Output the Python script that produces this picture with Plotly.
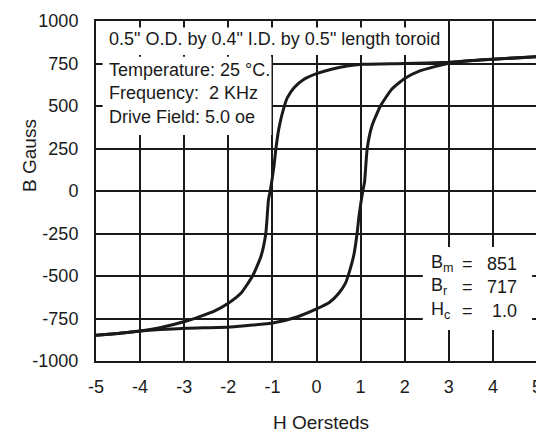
import plotly.graph_objects as go

# Descending branch (from +H to -H)
desc_h = [5.0, 4.0, 3.0, 2.0, 1.05, 0.69, 0.32, 0.0, -0.29, -0.51, -0.66, -0.74, -0.85, -0.92, -0.96, -1.0, -1.05, -1.09, -1.15, -1.26, -1.45, -1.71, -2.0, -2.33, -2.95, -3.55, -4.0, -4.5, -5.0]
desc_b = [790, 775, 758, 750, 745, 735, 715, 690, 656, 608, 549, 490, 372, 250, 156, 80, 0, -54, -250, -385, -500, -600, -660, -708, -765, -804, -824, -838, -849]

# Ascending branch (from -H to +H)
asc_h = [-5.0, -4.5, -4.0, -2.95, -1.95, -0.97, -0.44, 0.0, 0.29, 0.51, 0.66, 0.74, 0.85, 0.92, 0.96, 1.0, 1.05, 1.09, 1.15, 1.26, 1.45, 1.71, 2.0, 2.33, 3.0, 3.5, 4.0, 4.5, 5.0]
asc_b = [-849, -838, -824, -808, -800, -775, -741, -694, -656, -600, -540, -480, -372, -250, -156, -80, 0, 54, 250, 385, 500, 600, 662, 705, 752, 767, 775, 783, 790]

x_ticks = [-5, -4, -3, -2, -1, 0, 1, 2, 3, 4, 5]
y_ticks = [-1000, -750, -500, -250, 0, 250, 500, 750, 1000]

title_line = '0.5" O.D. by 0.4" I.D. by 0.5" length toroid'
cond_lines = ["Temperature: 25 °C.", "Frequency:  2 KHz", "Drive Field: 5.0 oe"]
param_names = ["B<sub>m</sub>", "B<sub>r</sub>", "H<sub>c</sub>"]
param_values = ["851", "717", "1.0"]
x_title = "H Oersteds"
y_title = "B Gauss"

FONT = "Liberation Sans, Arial, sans-serif"
INK = "#1a1a1a"

fig = go.Figure()
for hx, by in ((desc_h, desc_b), (asc_h, asc_b)):
    fig.add_trace(go.Scatter(x=hx, y=by, mode="lines",
                             line=dict(color=INK, width=3, shape="spline", smoothing=0.5),
                             showlegend=False, hoverinfo="skip"))

# white boxes behind the text (above grid, below curves)
boxes = [(-4.85, 2.95, 800, 962), (-4.85, -1.02, 330, 790), (2.41, 4.89, -818, -329)]
for x0, x1, y0, y1 in boxes:
    fig.add_shape(type="rect", xref="x", yref="y", x0=x0, x1=x1, y0=y0, y1=y1,
                  fillcolor="white", line=dict(width=0), layer="between")

def note(x, y, text, anchor, align):
    fig.add_annotation(x=x, y=y, xref="x", yref="y", text=text, showarrow=False,
                       xanchor=anchor, yanchor="middle", align=align,
                       font=dict(family=FONT, size=18, color=INK))

note(-4.74, 893, title_line, "left", "left")
note(-4.74, 572, "<br>".join(cond_lines), "left", "left")
note(2.55, -565, "<br>".join(param_names), "left", "left")
note(3.43, -565, "<br>".join(["="] * 3), "center", "center")
note(4.6, -565, "<br>".join(param_values), "right", "right")

# axis titles
fig.add_annotation(xref="paper", yref="paper", x=0.51, y=0, yshift=-61, text=x_title,
                   showarrow=False, xanchor="center", yanchor="middle",
                   font=dict(family=FONT, size=19, color=INK))
fig.add_annotation(xref="paper", yref="paper", x=0, y=0.603, xshift=-66, text=y_title,
                   textangle=-90, showarrow=False, xanchor="center", yanchor="middle",
                   font=dict(family=FONT, size=19, color=INK))

axis_common = dict(showgrid=True, gridcolor=INK, gridwidth=1.5, zeroline=True, zerolinecolor=INK,
                   zerolinewidth=1.5, showline=True, linecolor=INK, linewidth=2, mirror=True,
                   ticks="outside", tickcolor="rgba(0,0,0,0)", automargin=False,
                   tickfont=dict(family=FONT, size=18, color=INK))

fig.update_xaxes(range=[-5, 5], tickvals=x_ticks, ticktext=[str(v) for v in x_ticks],
                 ticklen=8, **axis_common)
fig.update_yaxes(range=[-1000, 1000], tickvals=y_ticks, ticktext=[str(v) for v in y_ticks],
                 ticklen=12, **axis_common)

# page body has an 8px margin, so the figure is sized/offset to land the plot area in place
fig.update_layout(width=536, height=424, margin=dict(l=88, r=7, t=13, b=71),
                  paper_bgcolor="white", plot_bgcolor="white", font=dict(family=FONT, color=INK))

fig.write_html("out.html")
